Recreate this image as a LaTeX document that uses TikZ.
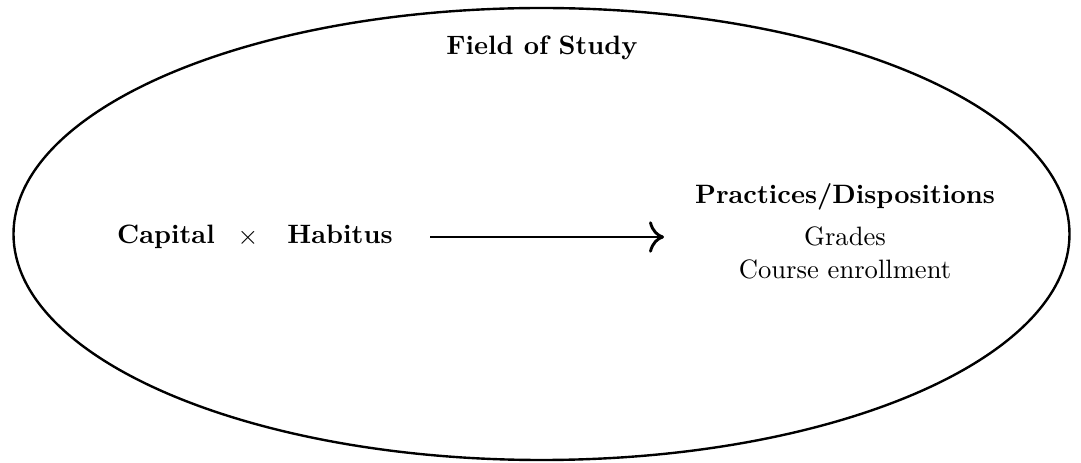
\documentclass[tikz,border=0pt]{standalone}
\usetikzlibrary{shapes.geometric,arrows.meta}
\begin{document}
\begin{tikzpicture}[x=0.376pt,y=-0.376pt,
  lbl/.style={inner sep=0pt,anchor=base,font=\bfseries},
  txt/.style={inner sep=0pt,anchor=base}]
\useasboundingbox (0,0) rectangle (1081,463);
\node[draw,line width=0.9pt,ellipse,minimum width=1056*0.376pt,minimum height=452*0.376pt,inner sep=0pt] (field) at (541.5,234) {};
\node[lbl] (fos) at (542,55) {Field of Study};
\node[lbl] (cap) at (166,244) {Capital};
\node[inner sep=0pt] (times) at (248,238) {$\times$};
\node[lbl] (hab) at (340,244) {Habitus};
\node[lbl] (prac) at (845,204) {Practices/Dispositions};
\node[txt] (gr) at (845,246) {Grades};
\node[txt] (ce) at (845,279) {Course enrollment};
\coordinate (a1) at (430,237);
\coordinate (a2) at (664,237);
\draw[line width=1.1pt,-{Computer Modern Rightarrow[scale=1.4]}] (a1) -- (a2);
\end{tikzpicture}
\end{document}
